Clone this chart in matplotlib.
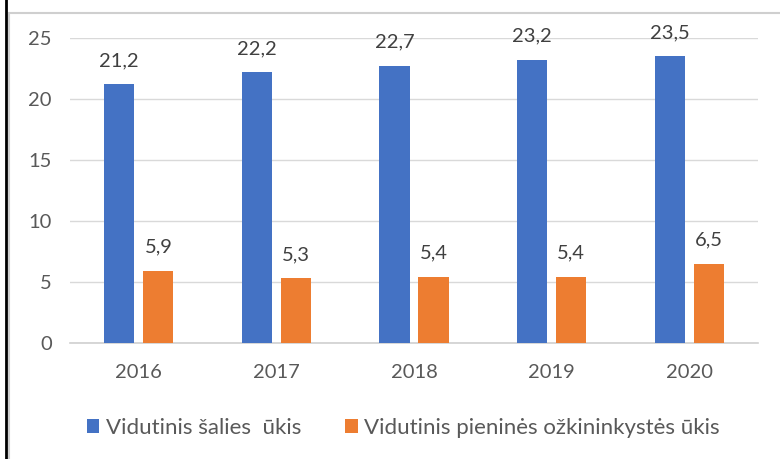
import matplotlib.pyplot as plt
import numpy as np
from matplotlib.lines import Line2D
from matplotlib.patches import Rectangle

years = ['2016', '2017', '2018', '2019', '2020']
salies_ukis = [21.2, 22.2, 22.7, 23.2, 23.5]
ozkininkystes_ukis = [5.9, 5.3, 5.4, 5.4, 6.5]
series_names = ['Vidutinis šalies  ūkis', 'Vidutinis pieninės ožkininkystės ūkis']
yticks = [0, 5, 10, 15, 20, 25]

blue = '#4472c4'
orange = '#ed7d31'
txt = '#595959'

plt.rcParams['font.family'] = ['Lato', 'DejaVu Sans']

fig = plt.figure(figsize=(7.8, 4.59), dpi=100)
ax = fig.add_axes([0.0897, 0.2527, 0.8823, 0.6643])

x = np.arange(len(years))
w = 0.22
off = 0.142
b1 = ax.bar(x - off, salies_ukis, w, color=blue, label=series_names[0], zorder=3)
b2 = ax.bar(x + off, ozkininkystes_ukis, w, color=orange, label=series_names[1], zorder=3)

# value labels with decimal comma
for bars, vals in ((b1, salies_ukis), (b2, ozkininkystes_ukis)):
    for rect, v in zip(bars, vals):
        ax.annotate(f'{v:.1f}'.replace('.', ','),
                    (rect.get_x() + rect.get_width() / 2, v),
                    xytext=(0, 11), textcoords='offset points',
                    ha='center', va='bottom', fontsize=14.5, color='#404040')

ax.set_xlim(-0.5, 4.5)
ax.set_ylim(0, 25)
ax.set_yticks(yticks)
ax.set_xticks(x)
ax.set_xticklabels(years)
ax.tick_params(axis='both', length=0, labelsize=14.5, colors=txt)
ax.tick_params(axis='x', pad=15)
ax.tick_params(axis='y', pad=13)
ax.grid(axis='y', color='#d9d9d9', linewidth=1, zorder=0)
for s in ['top', 'right', 'left']:
    ax.spines[s].set_visible(False)
ax.spines['bottom'].set_color('#d0d0d0')
ax.spines['bottom'].set_linewidth(1.2)

fig.legend(handles=[b1, b2], loc='center', bbox_to_anchor=(0.517, 0.068),
           ncol=2, frameon=False, fontsize=16, labelcolor=txt,
           handlelength=0.55, handleheight=0.6, handletextpad=0.3,
           columnspacing=2.0)

# chart area outline and the left page border
fig.add_artist(Rectangle((9 / 780, -0.01), 1.0, 1 - 13 / 459 + 0.01,
                         transform=fig.transFigure, fill=False,
                         edgecolor='#cfcfcf', linewidth=1.5))
fig.add_artist(Line2D([6 / 780, 6 / 780], [0, 1], transform=fig.transFigure,
                      color='black', linewidth=2))

fig.savefig('out.png', dpi=100)
